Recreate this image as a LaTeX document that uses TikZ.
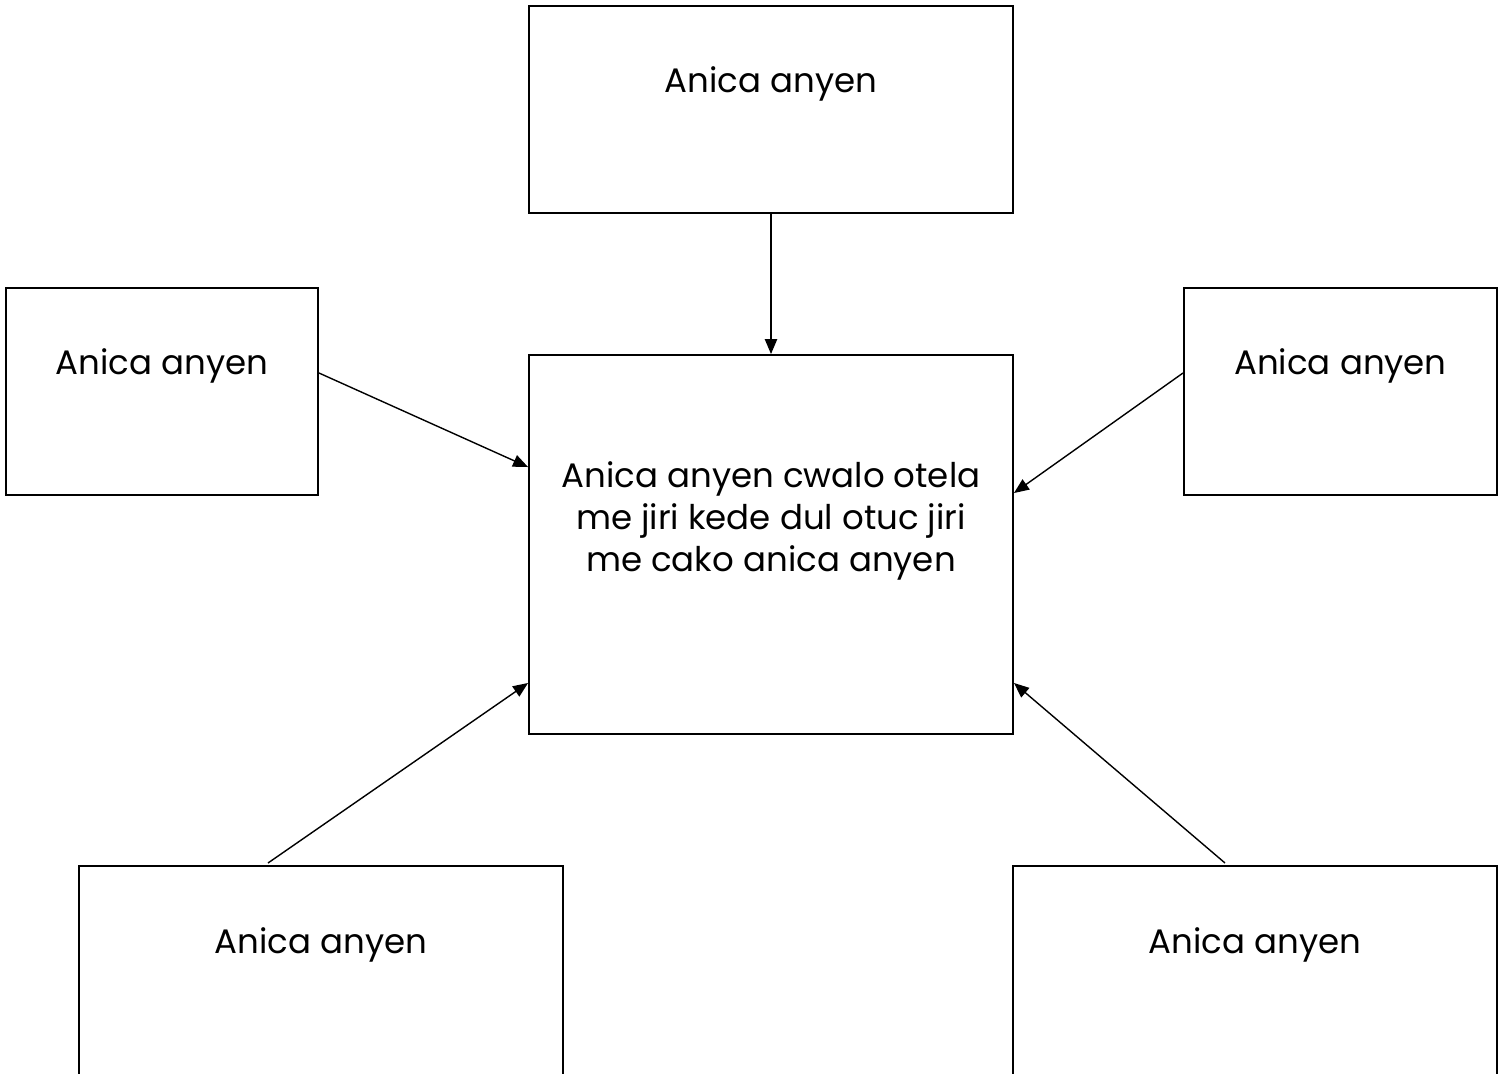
\documentclass[tikz,border=0pt]{standalone}
\usepackage{fontspec}
\setmainfont{Poppins}
\usetikzlibrary{arrows}
\tikzstyle{block} = [rectangle, draw, line width=1pt, inner sep=0pt]
\tikzstyle{label} = [anchor=base, inner sep=0pt, font=\fontsize{17pt}{21pt}\selectfont, align=center]
\tikzstyle{line} = [draw, line width=0.7pt, -triangle 45]
\begin{document}
\begin{tikzpicture}[x=0.5pt, y=-0.5pt]
    \useasboundingbox (0,0) rectangle (1510,1073);
    % Place boxes
    \node [block, minimum width=242pt, minimum height=103.5pt] (top) at (771,109.5) {};
    \node [block, minimum width=156pt, minimum height=103.5pt] (left) at (162,391.5) {};
    \node [block, minimum width=156.5pt, minimum height=103.5pt] (right) at (1340.5,391.5) {};
    \node [block, minimum width=242pt, minimum height=189.5pt] (centre) at (771,544.5) {};
    \node [block, minimum width=242pt, minimum height=106pt] (botleft) at (321,972) {};
    \node [block, minimum width=242pt, minimum height=106pt] (botright) at (1255,972) {};
    % Place texts
    \node [label] (toptext) at (771,92) {Anica anyen};
    \node [label] (lefttext) at (162,374) {Anica anyen};
    \node [label] (righttext) at (1340.5,374) {Anica anyen};
    \node [label, anchor=north] (centretext) at (771,461) {Anica anyen cwalo otela\\me jiri kede dul otuc jiri\\me cako anica anyen};
    \node [label] (botlefttext) at (321,953) {Anica anyen};
    \node [label] (botrighttext) at (1255,953) {Anica anyen};
    % Draw edges
    \path [line] (top.south) -- (centre.north);
    \path [line] (left.east |- 0,373) -- (centre.west |- 0,467);
    \path [line] (right.west |- 0,373) -- (centre.east |- 0,493);
    \path [line] (268,863) -- (centre.west |- 0,683);
    \path [line] (1225,863) -- (centre.east |- 0,683);
\end{tikzpicture}
\end{document}
